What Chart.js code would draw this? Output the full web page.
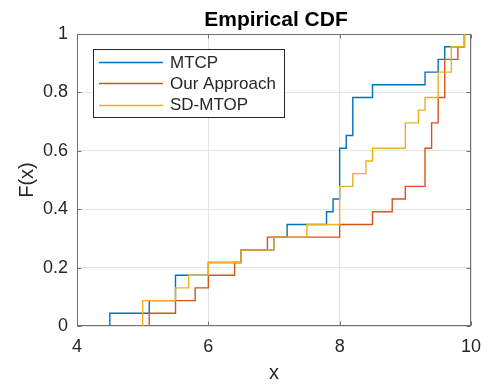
<!DOCTYPE html>
<html>
<head>
<meta charset="utf-8">
<script src="https://cdn.jsdelivr.net/npm/chart.js@4/dist/chart.umd.min.js"></script>
<style>
  html, body { margin: 0; padding: 0; background: #fff; }
</style>
</head>
<body>
<canvas id="cdfChart" width="488" height="385"></canvas>
<script>
// samples (23 runs per method)
const seriesNames = ['MTCP', 'Our Approach', 'SD-MTOP'];
const mtcpSamples = [4.5, 5.1, 5.5, 5.5, 6.0, 6.5, 7.0, 7.2, 7.8, 7.9, 8.0, 8.0, 8.0, 8.0,
                     8.1, 8.2, 8.2, 8.2, 8.5, 9.3, 9.5, 9.6, 9.9];
const ourSamples = [5.1, 5.5, 5.8, 6.0, 6.4, 6.5, 6.9, 8.0, 8.5, 8.8, 9.0, 9.3, 9.3, 9.3,
                    9.4, 9.4, 9.5, 9.5, 9.6, 9.6, 9.6, 9.8, 9.9];
const sdSamples = [5.0, 5.0, 5.5, 5.7, 6.0, 6.5, 7.0, 7.5, 8.0, 8.0, 8.0, 8.2, 8.4, 8.5,
                   9.0, 9.0, 9.2, 9.3, 9.5, 9.5, 9.7, 9.7, 9.9];
const seriesColors = ['#0072BD', '#D95319', '#EDB120'];
const xTicks = [4, 6, 8, 10];
const yTicks = [0, 0.2, 0.4, 0.6, 0.8, 1];
const yTickLabels = ['0', '0.2', '0.4', '0.6', '0.8', '1'];

const FONT = "'Liberation Sans', Arial, sans-serif";
const TEXT = '#262626';
const AXIS = '#707070';

// empirical cdf: one point per distinct value, stepped lines do the rest
function ecdfPoints(samples) {
    const sorted = samples.slice().sort((a, b) => a - b);
    const n = sorted.length;
    const pts = [{ x: sorted[0], y: 0 }];
    sorted.forEach((v, i) => {
        if (i < n - 1 && sorted[i + 1] === v) return;
        pts.push({ x: v, y: (i + 1) / n });
    });
    return pts;
}

const allSamples = [mtcpSamples, ourSamples, sdSamples];

// box, inward ticks, title and the legend inside the axes
const matlabAxes = {
    id: 'matlabAxes',
    beforeDatasetsDraw(chart) {
        const { ctx, chartArea: a, scales } = chart;
        ctx.save();
        ctx.strokeStyle = AXIS;
        ctx.lineWidth = 1;
        const L = Math.round(a.left) + 0.5, R = Math.round(a.right) - 0.5;
        const T = Math.round(a.top) + 0.5, B = Math.round(a.bottom) - 0.5;
        ctx.strokeRect(L, T, R - L, B - T);
        ctx.beginPath();
        xTicks.forEach(v => {
            const px = Math.round(scales.x.getPixelForValue(v)) + 0.5;
            ctx.moveTo(px, B); ctx.lineTo(px, B - 4);
            ctx.moveTo(px, T); ctx.lineTo(px, T + 4);
        });
        yTicks.forEach(v => {
            const py = Math.round(scales.y.getPixelForValue(v)) + 0.5;
            ctx.moveTo(L, py); ctx.lineTo(L + 4, py);
            ctx.moveTo(R, py); ctx.lineTo(R - 4, py);
        });
        ctx.stroke();
        ctx.restore();
    },
    afterDraw(chart) {
        const { ctx, chartArea: a } = chart;
        ctx.save();
        // title
        ctx.fillStyle = '#000';
        ctx.font = 'bold 21px ' + FONT;
        ctx.textAlign = 'center';
        ctx.textBaseline = 'alphabetic';
        ctx.fillText('Empirical CDF', (a.left + a.right) / 2 + 2, 26);

        // legend
        const bx = Math.round(a.left + 16) + 0.5, by = Math.round(a.top + 15) + 0.5;
        const bw = 191, bh = 68;
        ctx.fillStyle = '#fff';
        ctx.fillRect(bx, by, bw, bh);
        ctx.strokeStyle = TEXT;
        ctx.lineWidth = 1;
        ctx.strokeRect(bx, by, bw, bh);
        ctx.font = '17px ' + FONT;
        ctx.textAlign = 'left';
        ctx.textBaseline = 'middle';
        chart.data.datasets.forEach((ds, i) => {
            const ry = by + 12.5 + i * 21.3;
            ctx.strokeStyle = ds.borderColor;
            ctx.lineWidth = ds.borderWidth;
            ctx.beginPath();
            ctx.moveTo(bx + 5.5, Math.round(ry) + 0.5);
            ctx.lineTo(bx + 69.5, Math.round(ry) + 0.5);
            ctx.stroke();
            ctx.fillStyle = TEXT;
            ctx.fillText(ds.label, bx + 76.5, ry + 1);
        });
        ctx.restore();
    }
};

const ctx = document.getElementById('cdfChart').getContext('2d');
const cdfChart = new Chart(ctx, {
    type: 'line',
    data: {
        datasets: seriesNames.map((name, i) => ({
            label: name,
            data: ecdfPoints(allSamples[i]),
            borderColor: seriesColors[i],
            backgroundColor: seriesColors[i],
            borderWidth: 1.4,
            stepped: 'before',
            pointRadius: 0,
            fill: false,
            order: seriesNames.length - 1 - i,
        }))
    },
    options: {
        responsive: false,
        animation: false,
        devicePixelRatio: 1,
        layout: { padding: { top: 34, right: 17, bottom: 0, left: 0 } },
        plugins: {
            legend: { display: false },
            title: { display: false },
            tooltip: { enabled: false }
        },
        scales: {
            x: {
                type: 'linear',
                min: 4,
                max: 10,
                afterBuildTicks: s => { s.ticks = xTicks.map(v => ({ value: v })); },
                afterFit: s => { s.height = 59; s.paddingLeft = 0; s.paddingRight = 0; },
                ticks: { color: TEXT, font: { family: FONT, size: 18 }, padding: 10, maxRotation: 0 },
                grid: { color: '#e3e3e3', drawTicks: false },
                border: { display: false },
                title: { display: true, text: 'x', color: TEXT, font: { family: FONT, size: 20 },
                         padding: { top: 0, bottom: 0 } }
            },
            y: {
                min: 0,
                max: 1,
                afterBuildTicks: s => { s.ticks = yTicks.map(v => ({ value: v })); },
                afterFit: s => { s.width = 77; s.paddingTop = 0; s.paddingBottom = 0; },
                ticks: {
                    color: TEXT, font: { family: FONT, size: 18 }, padding: 9,
                    callback: (v, i) => yTickLabels[i]
                },
                grid: { color: '#e3e3e3', drawTicks: false },
                border: { display: false },
                title: { display: true, text: 'F(x)', color: TEXT, font: { family: FONT, size: 20 },
                         padding: { top: 15, bottom: 0 } }
            }
        }
    },
    plugins: [matlabAxes]
});
</script>
</body>
</html>
